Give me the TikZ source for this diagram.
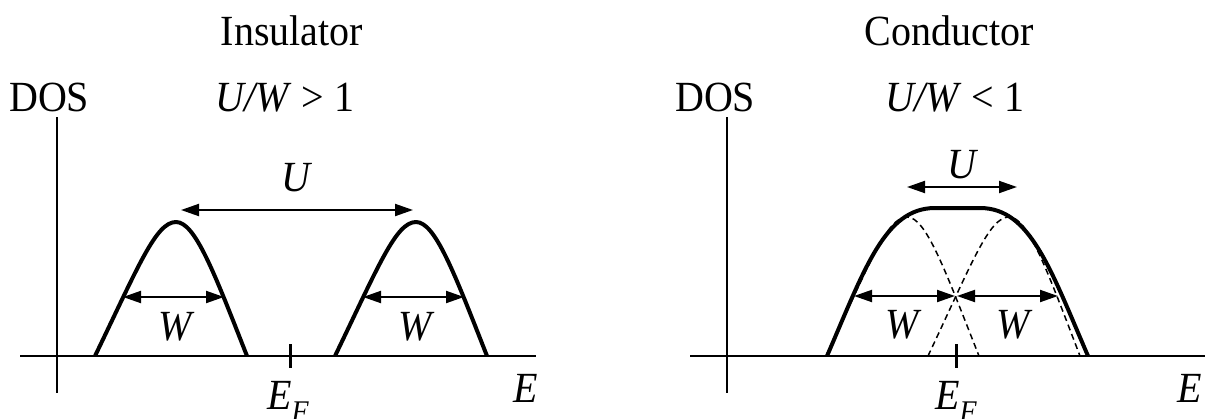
\documentclass[tikz,border=0pt]{standalone}
\usepackage{fontspec}
\setmainfont{Liberation Serif}[FakeStretch=0.93]
\usetikzlibrary{arrows.meta}
\tikzset{
  lbl/.style={inner sep=0pt, font=\fontsize{43}{43}\selectfont},
  axisline/.style={line width=2pt},
  band/.style={line width=4pt, line join=round},
  subband/.style={line width=1.5pt, dash pattern=on 6pt off 4pt},
  span/.style={line width=2pt, {Triangle[length=18pt,width=12pt]}-{Triangle[length=18pt,width=12pt]}},
  ticksty/.style={line width=3pt}
}
\newcommand{\efermi}{\textit{E}\raisebox{-0.3em}{\fontsize{30}{30}\selectfont\textit{F}}}
\begin{document}
\begin{tikzpicture}[x=1pt,y=-1pt]
\useasboundingbox (0,0) rectangle (1205,418);

% ---------------- Insulator ----------------
\node[lbl, anchor=base] (ti) at (292,45) {Insulator};
\node[lbl, anchor=base west] (dosi) at (9,111) {DOS};
\node[lbl, anchor=base] (ri) at (285,111) {\textit{U/W} > 1};

\coordinate (yi1) at (57,117);
\coordinate (yi2) at (57,393);
\coordinate (xi1) at (20,356);
\coordinate (xi2) at (536,356);
\draw[axisline] (yi1) -- (yi2);
\draw[axisline] (xi1) -- (xi2);

% peaks
\draw[band] (95,356) .. controls (138.5,266) and (156,222) .. (176,222)
  .. controls (195,222) and (214,272) .. (247,356);
\draw[band] (335,356) .. controls (378.5,266) and (396,222) .. (416,222)
  .. controls (435,222) and (454,272) .. (487,356);

% tick and E_F
\coordinate (tki1) at (290,344);
\coordinate (tki2) at (290,368);
\draw[ticksty] (tki1) -- (tki2);
\node[lbl, anchor=base west] (efi) at (267,409) {\efermi};
\node[lbl, anchor=base west] (ei) at (513,402) {\textit{E}};

% U arrow
\coordinate (ui1) at (181,210);
\coordinate (ui2) at (413,210);
\draw[span] (ui1) -- (ui2);
\node[lbl, anchor=base] (ulbli) at (297,191) {\textit{U}};

% W arrows
\coordinate (wi1) at (123,297);
\coordinate (wi2) at (224,297);
\draw[span] (wi1) -- (wi2);
\node[lbl, anchor=base] (wlbli1) at (177,340) {\textit{W}};
\coordinate (wi3) at (363,297);
\coordinate (wi4) at (464,297);
\draw[span] (wi3) -- (wi4);
\node[lbl, anchor=base] (wlbli2) at (417,340) {\textit{W}};

% ---------------- Conductor ----------------
\node[lbl, anchor=base] (tc) at (949,45) {Conductor};
\node[lbl, anchor=base west] (dosc) at (675,111) {DOS};
\node[lbl, anchor=base] (rc) at (955,111) {\textit{U/W} < 1};

\coordinate (yc1) at (727,117);
\coordinate (yc2) at (727,393);
\coordinate (xc1) at (690,356);
\coordinate (xc2) at (1205,356);
\draw[axisline] (yc1) -- (yc2);
\draw[axisline] (xc1) -- (xc2);

% dashed sub-bands
\draw[subband] (826,356) .. controls (869.5,264) and (887,217) .. (907,217)
  .. controls (926,217) and (945,270) .. (979,356);
\draw[subband] (928,356) .. controls (971.5,264) and (989,217) .. (1009,217)
  .. controls (1028,217) and (1047,270) .. (1080,356);

% envelope
\draw[band] (827,356) .. controls (865,268) and (885,208) .. (935,208)
  -- (980,208) .. controls (1030,208) and (1050,268) .. (1088,356);

% tick and E_F
\coordinate (tkc1) at (956,344);
\coordinate (tkc2) at (956,368);
\draw[ticksty] (tkc1) -- (tkc2);
\node[lbl, anchor=base west] (efc) at (935,409) {\efermi};
\node[lbl, anchor=base west] (ec) at (1177,402) {\textit{E}};

% U arrow
\coordinate (uc1) at (907,187);
\coordinate (uc2) at (1017,187);
\draw[span] (uc1) -- (uc2);
\node[lbl, anchor=base] (ulblc) at (963,178) {\textit{U}};

% W arrows
\coordinate (wc1) at (854,296);
\coordinate (wc2) at (955,296);
\draw[span] (wc1) -- (wc2);
\node[lbl, anchor=base] (wlblc1) at (904,338) {\textit{W}};
\coordinate (wc3) at (957,296);
\coordinate (wc4) at (1058,296);
\draw[span] (wc3) -- (wc4);
\node[lbl, anchor=base] (wlblc2) at (1015,338) {\textit{W}};
\end{tikzpicture}
\end{document}
